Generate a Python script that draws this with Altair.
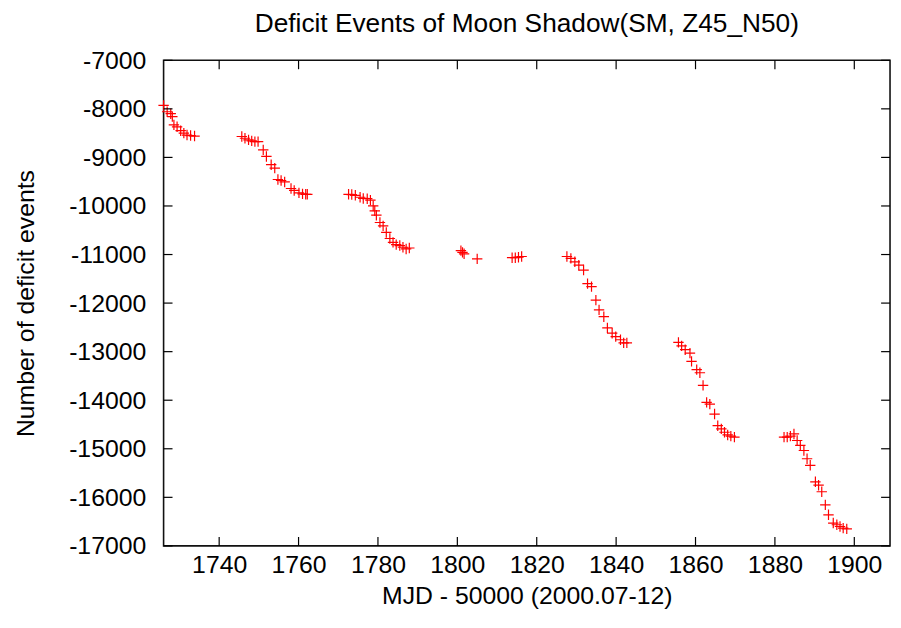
import altair as alt
import pandas as pd

# MJD - 50000 values of each point, one list per observation window
mjd_1 = [1726.0, 1726.9, 1727.8, 1728.2, 1728.6, 1729.4, 1730.3, 1731.1, 1731.9, 1732.8, 1733.8]
def_1 = [-7930, -8060, -8100, -8160, -8330, -8370, -8450, -8500, -8540, -8550, -8560]

mjd_2 = [1745.7, 1746.5, 1747.4, 1748.2, 1749.0, 1749.8, 1751.1, 1751.9, 1753.1, 1754.0,
         1754.8, 1755.6, 1756.5, 1758.1, 1758.9, 1760.1, 1761.0, 1761.8, 1762.2]
def_2 = [-8570, -8605, -8640, -8660, -8675, -8675, -8845, -8980, -9150, -9220,
         -9455, -9475, -9505, -9640, -9680, -9730, -9750, -9760, -9760]

mjd_3 = [1772.6, 1773.4, 1774.3, 1775.5, 1776.3, 1777.3, 1778.1, 1778.8, 1779.2, 1779.6,
         1780.5, 1781.3, 1782.1, 1783.0, 1783.8, 1784.6, 1785.5, 1786.3, 1787.1, 1787.9]
def_3 = [-9760, -9765, -9780, -9820, -9845, -9850, -9880, -10000, -10100, -10190,
         -10340, -10410, -10545, -10670, -10750, -10795, -10815, -10850, -10885, -10865]

mjd_4 = [1800.9, 1801.3, 1801.7, 1805.0]
def_4 = [-10920, -10955, -10985, -11090]

mjd_5 = [1813.8, 1814.6, 1815.4, 1816.2]
def_5 = [-11065, -11065, -11055, -11040]

mjd_6 = [1827.6, 1828.6, 1829.6, 1830.6, 1831.8, 1832.8, 1833.8, 1834.9, 1835.7, 1836.9,
         1837.8, 1839.0, 1839.9, 1841.1, 1841.9, 1842.7]
def_6 = [-11040, -11080, -11150, -11220, -11320, -11600, -11660, -11940, -12140, -12280,
         -12510, -12620, -12690, -12755, -12820, -12820]

mjd_7 = [1855.7, 1856.5, 1857.4, 1858.6, 1859.0, 1860.3, 1861.1, 1861.9, 1862.8, 1863.6,
         1864.8, 1865.6, 1866.5, 1867.3, 1868.1, 1868.9, 1869.8]
def_7 = [-12810, -12880, -12960, -13030, -13200, -13370, -13435, -13695, -14045, -14080,
         -14285, -14525, -14590, -14660, -14715, -14740, -14760]

mjd_8 = [1882.3, 1883.1, 1883.9, 1884.8, 1885.6, 1886.4, 1887.3, 1888.1, 1888.9, 1890.2,
         1891.0, 1891.8, 1892.7, 1893.5, 1894.7, 1895.6, 1896.4, 1897.2, 1898.1]
def_8 = [-14760, -14760, -14740, -14695, -14830, -14930, -15035, -15205, -15340, -15680,
         -15750, -15885, -16155, -16360, -16530, -16565, -16600, -16635, -16650]

x_ticks = [1740, 1760, 1780, 1800, 1820, 1840, 1860, 1880, 1900]
y_ticks = [-7000, -8000, -9000, -10000, -11000, -12000, -13000, -14000, -15000, -16000, -17000]
x_domain = [1726, 1909]
y_domain = [-17000, -7000]

TITLE = "Deficit Events of Moon Shadow(SM, Z45_N50)"
X_TITLE = "MJD - 50000 (2000.07-12)"
Y_TITLE = "Number of deficit events"

mjd = mjd_1 + mjd_2 + mjd_3 + mjd_4 + mjd_5 + mjd_6 + mjd_7 + mjd_8
deficit = def_1 + def_2 + def_3 + def_4 + def_5 + def_6 + def_7 + def_8

W, H = 733, 490
TL = 9  # inward tick length
FONT = "Liberation Sans"
FS = 25

df = pd.DataFrame({"x": mjd, "y": deficit})
xt = pd.DataFrame({"x": x_ticks})
yt = pd.DataFrame({"y": y_ticks})

xs = alt.Scale(domain=x_domain, nice=False, zero=False)
ys = alt.Scale(domain=y_domain, nice=False, zero=False)

x_axis = alt.Axis(
    values=x_ticks, title=X_TITLE, grid=False, domain=False, ticks=False, tickSize=0,
    labelPadding=7, titlePadding=6, labelFlush=False, labelExpr="datum.value + ''",
    labelFont=FONT, labelFontSize=FS, labelColor="#000000",
    titleFont=FONT, titleFontSize=FS, titleColor="#000000", titleFontWeight="normal")
y_axis = alt.Axis(
    values=y_ticks, title=Y_TITLE, grid=False, domain=False, ticks=False, tickSize=0,
    labelPadding=18, titlePadding=30, labelFlush=False, labelExpr="datum.value + ''",
    labelFont=FONT, labelFontSize=FS, labelColor="#000000",
    titleFont=FONT, titleFontSize=FS, titleColor="#000000", titleFontWeight="normal")

plus = "M-1,0L1,0M0,-1L0,1"

points = alt.Chart(df).mark_point(
    shape=plus, size=110, color="#ff0000", strokeWidth=1.2, filled=False, opacity=1
).encode(
    x=alt.X("x:Q", scale=xs, axis=x_axis),
    y=alt.Y("y:Q", scale=ys, axis=y_axis),
)

rule_kw = dict(color="#000000", strokeWidth=1.2)
bottom_ticks = alt.Chart(xt).mark_rule(**rule_kw).encode(
    x=alt.X("x:Q", scale=xs, axis=x_axis), y=alt.value(H), y2=alt.value(H - TL))
top_ticks = alt.Chart(xt).mark_rule(**rule_kw).encode(
    x=alt.X("x:Q", scale=xs, axis=x_axis), y=alt.value(0), y2=alt.value(TL))
left_ticks = alt.Chart(yt).mark_rule(**rule_kw).encode(
    y=alt.Y("y:Q", scale=ys, axis=y_axis), x=alt.value(0), x2=alt.value(TL))
right_ticks = alt.Chart(yt).mark_rule(**rule_kw).encode(
    y=alt.Y("y:Q", scale=ys, axis=y_axis), x=alt.value(W), x2=alt.value(W - TL))

chart = alt.layer(points, bottom_ticks, top_ticks, left_ticks, right_ticks).properties(
    width=W, height=H,
    background="#ffffff",
    title=alt.TitleParams(TITLE, font=FONT, fontSize=26.5, fontWeight="normal", color="#000000",
                          anchor="middle", offset=11),
    autosize=alt.AutoSizeParams(type="none"),
    padding={"left": 157, "top": 50, "right": 3, "bottom": 70},
).configure_view(
    stroke="#111111", strokeWidth=1.6
)

chart.save("out.html", embed_options={"renderer": "svg", "actions": False})
